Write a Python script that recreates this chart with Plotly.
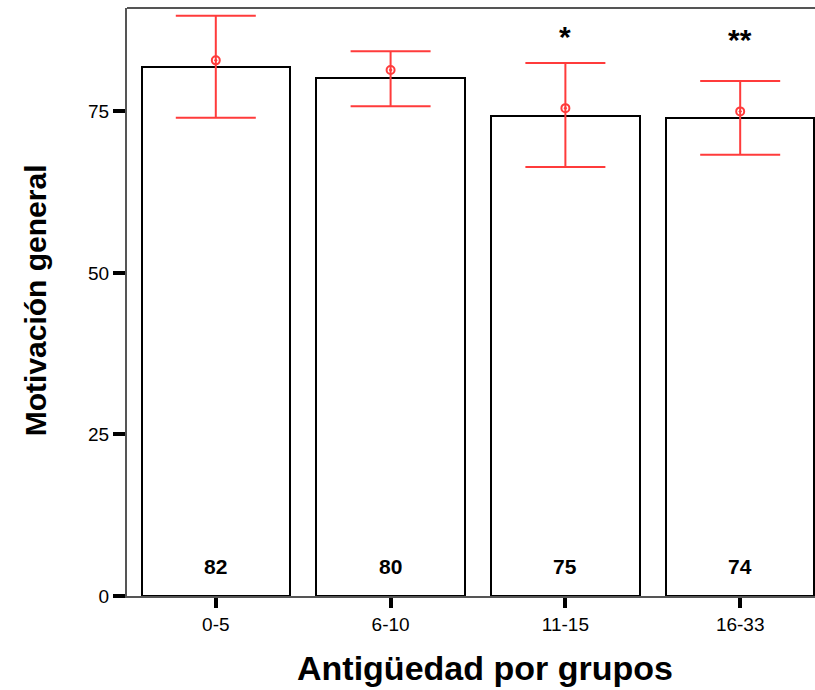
import plotly.graph_objects as go

categories = ["0-5", "6-10", "11-15", "16-33"]
bar_heights = [81.8, 80.2, 74.3, 74.0]
bar_labels = ["82", "80", "75", "74"]
means = [82.9, 81.4, 75.5, 75.0]
upper = [89.8, 84.3, 82.5, 79.7]
lower = [74.0, 75.8, 66.4, 68.3]
stars = ["", "", "*", "**"]
star_y = [None, None, 86.6, 86.1]
y_ticks = [0, 25, 50, 75]

FONT = "Liberation Sans, Arial, sans-serif"
RED = "#ff3b3b"
AX = "#555555"

fig = go.Figure()
fig.add_trace(go.Bar(
    x=categories, y=bar_heights, width=0.848,
    marker=dict(color="white", line=dict(color="black", width=2)),
    showlegend=False, hoverinfo="skip",
))
fig.add_trace(go.Scatter(
    x=categories, y=means, mode="markers",
    marker=dict(symbol="circle-open-dot", size=8, color=RED, line=dict(width=2, color=RED)),
    error_y=dict(type="data", symmetric=False,
                 array=[u - m for u, m in zip(upper, means)],
                 arrayminus=[m - l for m, l in zip(means, lower)],
                 color=RED, thickness=2, width=40),
    showlegend=False,
))

annotations = []
for c, lab in zip(categories, bar_labels):
    annotations.append(dict(x=c, y=0, text=f"<b>{lab}</b>", showarrow=False,
                            yanchor="middle", yshift=30,
                            font=dict(family=FONT, size=21, color="black")))
for c, s, sy in zip(categories, stars, star_y):
    if s:
        annotations.append(dict(x=c, y=sy, text=f"<b>{s}</b>", showarrow=False,
                                yanchor="middle",
                                font=dict(family=FONT, size=30, color="black")))
annotations.append(dict(xref="paper", yref="paper", x=0.52, y=-0.1224,
                        text="<b>Antigüedad por grupos</b>", showarrow=False,
                        xanchor="center", yanchor="middle",
                        font=dict(family=FONT, size=34, color="black")))
annotations.append(dict(xref="paper", yref="paper", x=-0.1337, y=0.503,
                        text="<b>Motivación general</b>", showarrow=False,
                        textangle=-90, xanchor="center", yanchor="middle",
                        font=dict(family=FONT, size=30, color="black")))

fig.update_layout(
    width=815, height=690,
    margin=dict(l=127, r=0, t=8, b=94, pad=0),
    paper_bgcolor="white", plot_bgcolor="white",
    bargap=0,
    annotations=annotations,
    shapes=[dict(type="line", xref="paper", yref="paper", x0=0, x1=1, y0=1, y1=1,
                 line=dict(color=AX, width=2))],
    xaxis=dict(range=[-0.508, 3.428], showline=True, linecolor=AX, linewidth=2,
               ticks="outside", ticklen=10, tickwidth=4, tickcolor="black",
               showgrid=False, zeroline=False,
               tickfont=dict(family=FONT, size=19, color="black")),
    yaxis=dict(range=[0, 91], showline=True, linecolor=AX, linewidth=2,
               ticks="outside", ticklen=12, tickwidth=4, tickcolor="black",
               tickvals=y_ticks, showgrid=False, zeroline=False,
               tickfont=dict(family=FONT, size=19, color="black")),
)

fig.write_html("out.html", config={"displayModeBar": False},
               post_script="document.body.style.margin='0';document.body.style.overflow='hidden';")
